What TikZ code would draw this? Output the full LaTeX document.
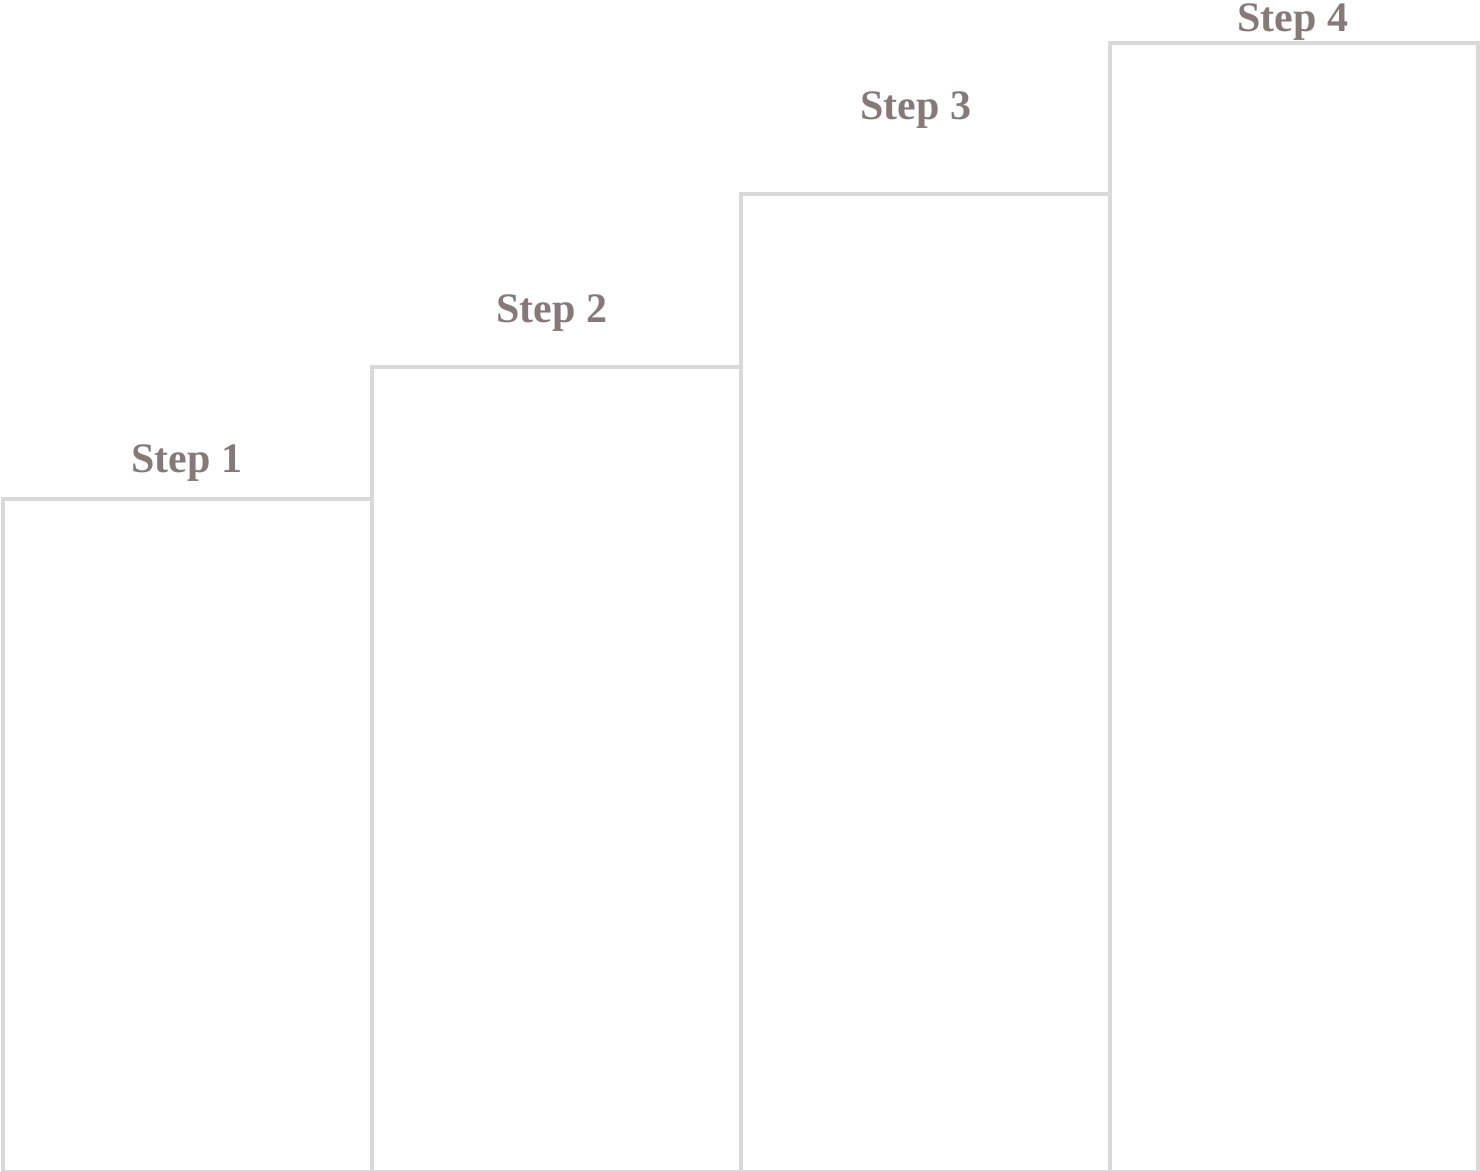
\documentclass[tikz,border=0pt]{standalone}
\usepackage{fontspec}
\setmainfont{Liberation Serif}
\usepackage{tikz}
\usetikzlibrary{positioning}
\definecolor{barline}{HTML}{D9D9D9}
\definecolor{steptext}{HTML}{857A78}
\tikzset{
  bar/.style={draw=barline,line width=4pt},
  steplabel/.style={anchor=base,inner sep=0pt,text=steptext,font=\fontsize{42}{48}\selectfont\bfseries}
}
\begin{document}
\begin{tikzpicture}[x=1pt,y=-1pt]
\useasboundingbox (0,0) rectangle (1480,1172);
% bars
\draw[bar] (3,1172)--(3,499)--(372,499)--(372,1172);
\draw[bar] (372,1172)--(372,367)--(741,367)--(741,1172);
\draw[bar] (741,1172)--(741,194)--(1110,194)--(1110,1172);
\draw[bar] (1110,1172)--(1110,43)--(1478,43)--(1478,1172);
\draw[bar] (3,1172)--(1478,1172);
% labels
\node[steplabel] (s1) at (187,472) {Step 1};
\node[steplabel] (s2) at (552,322) {Step 2};
\node[steplabel] (s3) at (916,119) {Step 3};
\node[steplabel] (s4) at (1293,32) {Step 4};
\end{tikzpicture}
\end{document}
